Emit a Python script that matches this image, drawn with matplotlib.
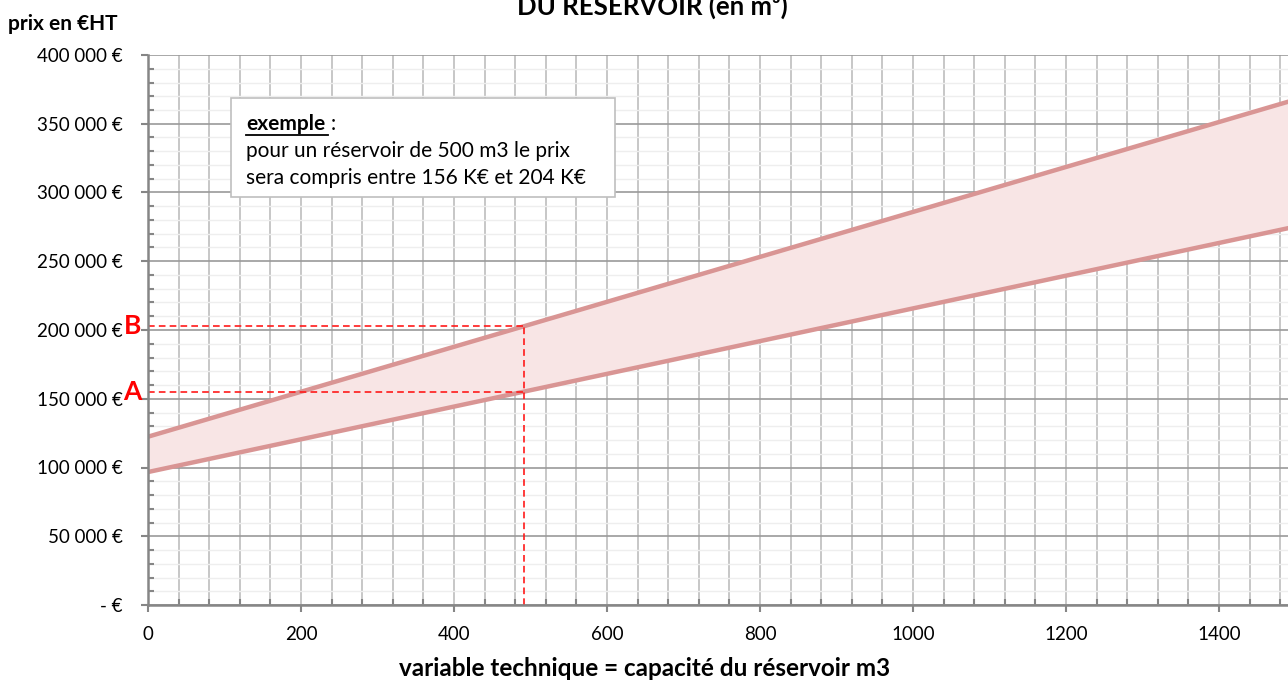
import matplotlib
matplotlib.use("Agg")
import numpy as np
import matplotlib.pyplot as plt
from matplotlib.ticker import MultipleLocator, FuncFormatter
from matplotlib.patches import Rectangle

plt.rcParams['font.family'] = ['Lato', 'DejaVu Sans']

# capacity of the tank (m3) and price bounds (EUR HT)
capacite = [0, 1500]
prix_bas = [96700, 275200]
prix_haut = [122400, 367600]

# worked example read on the chart
exemple_capacite = 491
x_ticks = [0, 200, 400, 600, 800, 1000, 1200, 1400]
y_ticks = [0, 50000, 100000, 150000, 200000, 250000, 300000, 350000, 400000]

W, H = 1288, 682
fig = plt.figure(figsize=(W / 100, H / 100), dpi=100)
ax = fig.add_axes([148 / W, 77 / H, 1147.5 / W, 550 / H])

# band between the two price lines
ax.fill_between(capacite, prix_bas, prix_haut, color='#f8e5e5', zorder=1, lw=0)
ax.plot(capacite, prix_haut, color='#d99594', lw=3.2, zorder=3, solid_capstyle='butt')
ax.plot(capacite, prix_bas, color='#d99594', lw=3.2, zorder=3, solid_capstyle='butt')

# dashed guides for the example
yA = np.interp(exemple_capacite, capacite, prix_bas)
yB = np.interp(exemple_capacite, capacite, prix_haut)
dash = dict(color='#ff1a1a', lw=1.2, dashes=(4, 2.5), zorder=4)
ax.plot([0, exemple_capacite], [yB, yB], **dash)
ax.plot([0, exemple_capacite], [yA, yA], **dash)
ax.plot([exemple_capacite, exemple_capacite], [0, yB], **dash)
ax.text(-9, yB, 'B', color='#ff0000', fontsize=19, fontweight='bold',
        ha='right', va='center', clip_on=False, zorder=5)
ax.text(-9, yA, 'A', color='#ff0000', fontsize=19, fontweight='bold',
        ha='right', va='center', clip_on=False, zorder=5)

ax.set_xlim(0, 1500)
ax.set_ylim(0, 400000)
ax.set_xticks(x_ticks)
ax.set_yticks(y_ticks)
ax.xaxis.set_minor_locator(MultipleLocator(40))
ax.yaxis.set_minor_locator(MultipleLocator(10000))


def euro(v, pos):
    if v == 0:
        return '- €'
    return f"{v:,.0f} €".replace(',', ' ')


ax.yaxis.set_major_formatter(FuncFormatter(euro))

# grid, Excel style
ax.grid(which='minor', axis='y', color='#eeeeee', lw=1.0, zorder=0)
ax.grid(which='major', axis='y', color='#9a9a9a', lw=1.2, zorder=0)
ax.grid(which='both', axis='x', color='#bdbdbd', lw=1.2, zorder=0)
ax.set_axisbelow(True)

for s in ['top', 'right']:
    ax.spines[s].set_visible(False)
for s in ['left', 'bottom']:
    ax.spines[s].set_color('#868686')
    ax.spines[s].set_linewidth(1.8)
    ax.spines[s].set_zorder(6)

ax.tick_params(which='major', direction='out', length=5, width=1.5, color='#868686',
               labelsize=13.5, labelcolor='black')
ax.tick_params(which='minor', direction='in', length=4, width=1.5, color='#868686')
ax.tick_params(axis='y', which='major', pad=13)
ax.tick_params(axis='x', which='major', pad=10)

ax.set_xlabel('variable technique = capacité du réservoir m3', fontsize=17.5,
              fontweight='bold')
ax.xaxis.set_label_coords((645 - 148) / 1147.5, -(668 - 605) / 550)
ax.xaxis.label.set_va('center')

fig.text(8 / W, 1 - 24 / H, 'prix en €HT', fontsize=15, fontweight='bold',
         ha='left', va='center')
fig.text(652 / W, 1 - 15 / H, 'DU RESERVOIR (en m³)', fontsize=18.5,
         fontweight='bold', ha='center', va='baseline')

# note box
box = Rectangle((231 / W, 1 - 197 / H), (615 - 231) / W, (197 - 98) / H,
                transform=fig.transFigure, facecolor='white', edgecolor='#bfbfbf',
                lw=1.2, zorder=7)
fig.patches.append(box)
fs_box = 15
t1 = fig.text(246 / W, 1 - 124 / H, 'exemple', fontsize=fs_box, fontweight='bold',
              ha='left', va='center', zorder=8)
fig.text(246 / W, 1 - 151 / H, 'pour un réservoir de 500 m3 le prix',
         fontsize=fs_box, ha='left', va='center', zorder=8)
fig.text(246 / W, 1 - 178 / H, 'sera compris entre 156 K€ et 204 K€',
         fontsize=fs_box, ha='left', va='center', zorder=8)

fig.canvas.draw()
bb = t1.get_window_extent()
fig.text((bb.x1 + 5) / W, 1 - 124 / H, ':', fontsize=fs_box, ha='left', va='center', zorder=8)
uy = (bb.y0 - 1) / H
fig.add_artist(plt.Line2D([bb.x0 / W, (bb.x1 + 3) / W], [uy, uy],
                          transform=fig.transFigure, color='black', lw=1.3, zorder=8))

fig.savefig('out.png', dpi=100)
